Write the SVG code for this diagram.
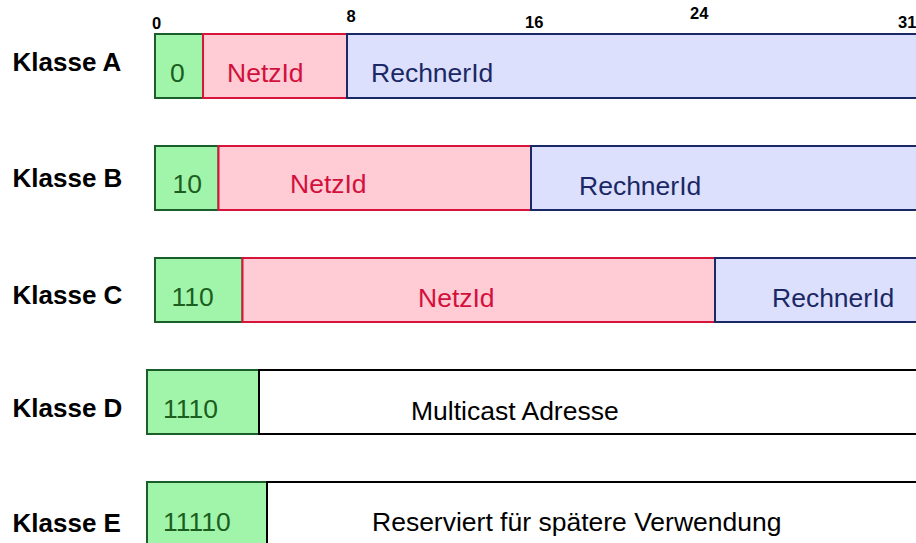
<svg xmlns="http://www.w3.org/2000/svg" width="916" height="543" viewBox="0 0 916 543">
<style>
text{font-family:"Liberation Sans",Arial,sans-serif}
.lbl{font-size:26px;font-weight:bold;fill:#000}
.bit{font-size:16.5px;font-weight:bold;fill:#000}
.t{font-size:26.5px}
.g{fill:#a0f5aa;stroke:#1b5e2a;stroke-width:2}
.r{fill:#ffccd5;stroke:#d6143c;stroke-width:2}
.b{fill:#dce0fc;stroke:#1a2866;stroke-width:2}
.w{fill:#fff;stroke:#000;stroke-width:2}
.gt{fill:#1b5e20}
.rt{fill:#d3103c}
.bt{fill:#1a2866}
.kt{fill:#000}
</style>
<rect width="916" height="543" fill="#fff"/>
<g id="bits">
<text class="bit" x="152" y="29">0</text>
<text class="bit" x="346.5" y="22">8</text>
<text class="bit" x="525" y="28">16</text>
<text class="bit" x="690" y="19">24</text>
<text class="bit" x="898" y="28">31</text>
</g>
<g id="klasseA">
<text class="lbl" x="12.5" y="71">Klasse A</text>
<rect class="g" x="155" y="34" width="48" height="64"/>
<rect class="r" x="203" y="34" width="144" height="64"/>
<rect class="b" x="347" y="34" width="575" height="64"/>
<text class="t gt" x="170" y="82">0</text>
<text class="t rt" x="227" y="82">NetzId</text>
<text class="t bt" x="371" y="82">RechnerId</text>
</g>
<g id="klasseB">
<text class="lbl" x="12.5" y="186.5">Klasse B</text>
<rect class="g" x="155" y="146" width="63.5" height="64"/>
<rect class="r" x="218.5" y="146" width="312.5" height="64"/>
<rect class="b" x="531" y="146" width="391" height="64"/>
<text class="t gt" x="172.5" y="193">10</text>
<text class="t rt" x="290" y="193">NetzId</text>
<text class="t bt" x="579" y="195">RechnerId</text>
</g>
<g id="klasseC">
<text class="lbl" x="12.5" y="304">Klasse C</text>
<rect class="g" x="155" y="258" width="87.5" height="64"/>
<rect class="r" x="242.5" y="258" width="472.5" height="64"/>
<rect class="b" x="715" y="258" width="207" height="64"/>
<text class="t gt" x="171.5" y="306">110</text>
<text class="t rt" x="418" y="307">NetzId</text>
<text class="t bt" x="772" y="307">RechnerId</text>
</g>
<g id="klasseD">
<text class="lbl" x="12.5" y="417">Klasse D</text>
<rect class="g" x="147" y="370" width="112" height="64"/>
<rect class="w" x="259" y="370" width="663" height="64"/>
<text class="t gt" x="163" y="418">1110</text>
<text class="t kt" x="411" y="420">Multicast Adresse</text>
</g>
<g id="klasseE">
<text class="lbl" x="12.5" y="531.5">Klasse E</text>
<rect class="g" x="147" y="482" width="120" height="70"/>
<rect class="w" x="267" y="482" width="655" height="70"/>
<text class="t gt" x="163" y="531">11110</text>
<text class="t kt" x="372" y="531">Reserviert für spätere Verwendung</text>
</g>
<g id="connectors"></g>
</svg>
